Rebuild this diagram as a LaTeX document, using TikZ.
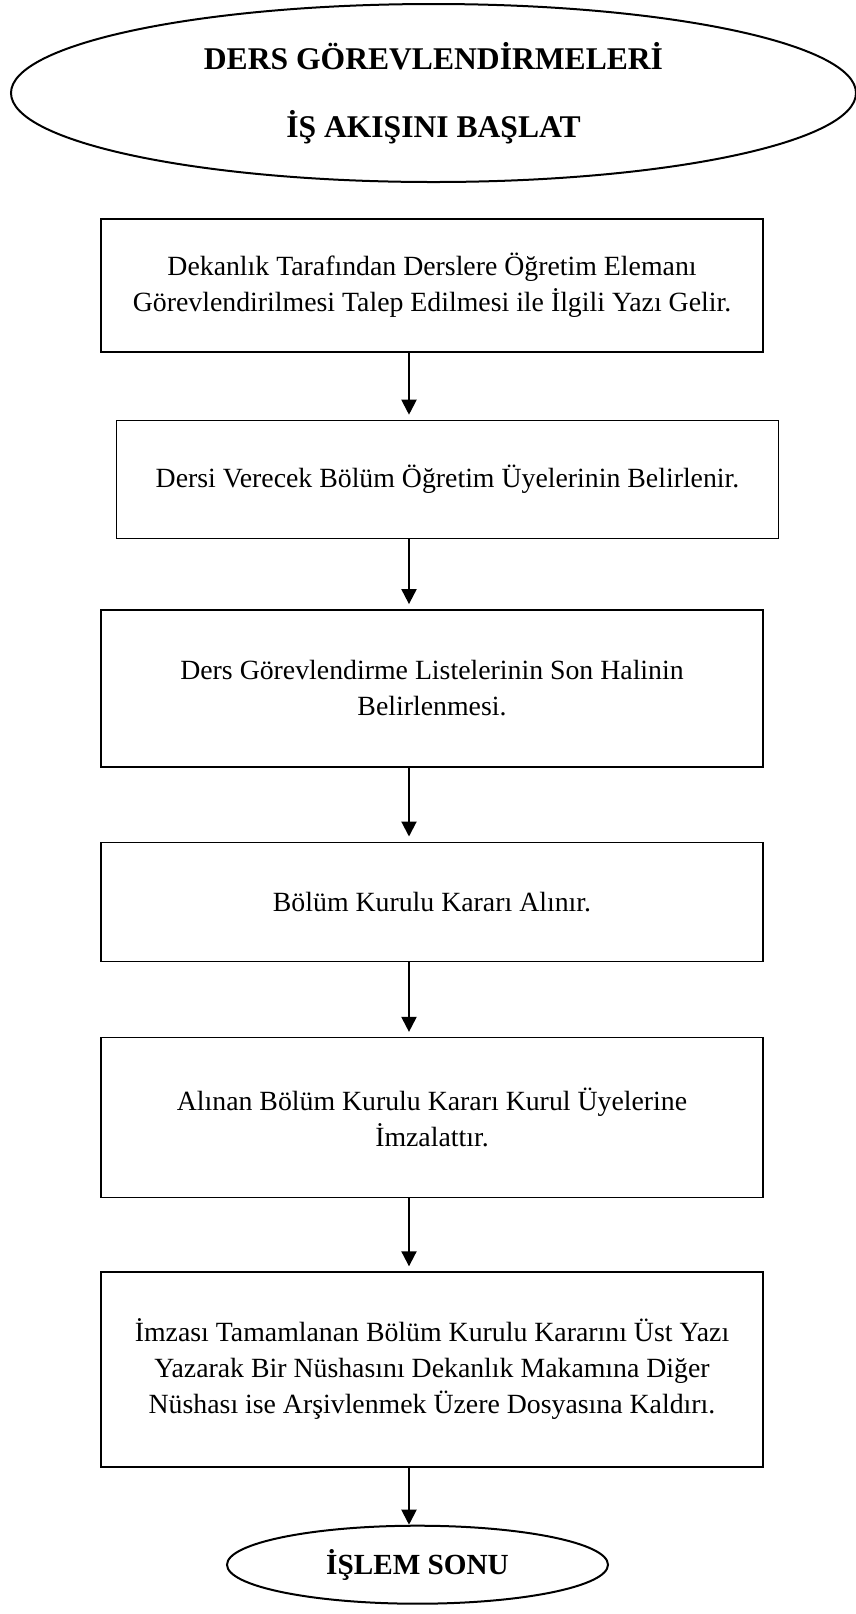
\documentclass[tikz,border=0pt]{standalone}
\usepackage{fontspec}
\setmainfont{Liberation Serif}
\usepackage{tikz}
\usetikzlibrary{arrows.meta, positioning, shapes.geometric}

\begin{document}
\begin{tikzpicture}[
    x=0.5pt, y=-0.5pt,
    box/.style={rectangle, draw=black, line width=0.7pt, align=center, minimum width=331pt, inner sep=0pt, font=\fontsize{13.9}{18}\selectfont},
    oval/.style={ellipse, draw=black, line width=1pt, align=center, inner sep=0pt, font=\fontsize{15.8}{34}\selectfont\bfseries},
    arr/.style={-{Triangle[length=7.5pt, width=7.5pt]}, line width=1pt, draw=black, shorten >=2.5pt}
]
\useasboundingbox (0,0) rectangle (856,1614);

% Nodes
\node[oval, minimum width=422.5pt, minimum height=89pt] (start) at (433.5,93) {DERS GÖREVLENDİRMELERİ\\İŞ AKIŞINI BAŞLAT};

\node[box, minimum height=66.5pt] (b1) at (432,285.5) {Dekanlık Tarafından Derslere Öğretim Elemanı\\Görevlendirilmesi Talep Edilmesi ile İlgili Yazı Gelir.};
\node[box, minimum height=59pt, below=33.5pt of b1, xshift=7.75pt] (b2) {Dersi Verecek Bölüm Öğretim Üyelerinin Belirlenir.};
\node[box, minimum height=78.5pt, below=35pt of b2, xshift=-7.75pt] (b3) {Ders Görevlendirme Listelerinin Son Halinin\\Belirlenmesi.};
\node[box, minimum height=59.5pt, below=37pt of b3] (b4) {Bölüm Kurulu Kararı Alınır.};
\node[box, minimum height=80pt, below=37.5pt of b4] (b5) {Alınan Bölüm Kurulu Kararı Kurul Üyelerine\\İmzalattır.};
\node[box, minimum height=97.5pt, below=36.5pt of b5] (b6) {İmzası Tamamlanan Bölüm Kurulu Kararını Üst Yazı\\Yazarak Bir Nüshasını Dekanlık Makamına Diğer\\Nüshası ise Arşivlenmek Üzere Dosyasına Kaldırı.};

\node[oval, font=\fontsize{14.6}{18}\selectfont\bfseries, minimum width=190.5pt, minimum height=39pt, below=28.5pt of b6, xshift=-7.25pt] (end) {İŞLEM SONU};

% Arrows
\coordinate (ax) at (409,0);
\draw[arr] (b1.south -| ax) -- (b2.north -| ax);
\draw[arr] (b2.south -| ax) -- (b3.north -| ax);
\draw[arr] (b3.south -| ax) -- (b4.north -| ax);
\draw[arr] (b4.south -| ax) -- (b5.north -| ax);
\draw[arr] (b5.south -| ax) -- (b6.north -| ax);
\draw[arr, shorten >=0pt] (b6.south -| ax) -- (end.north -| ax);

\end{tikzpicture}
\end{document}
